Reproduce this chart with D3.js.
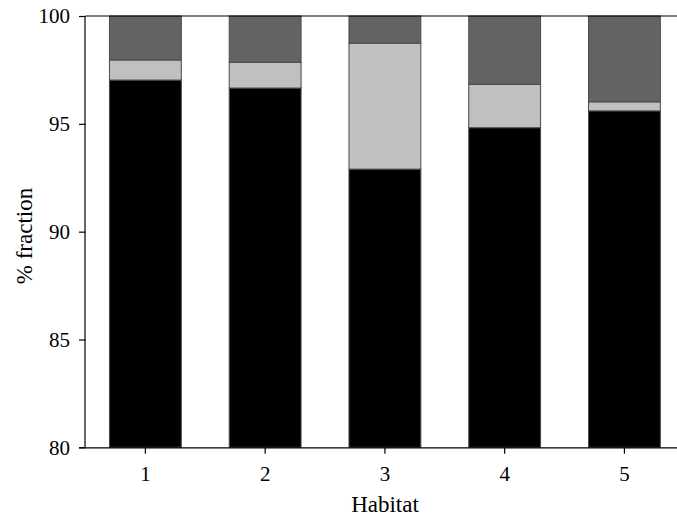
<!DOCTYPE html>
<html>
<head>
<meta charset="utf-8">
<script src="https://cdn.jsdelivr.net/npm/d3@7"></script>
<style>
  html, body { margin: 0; padding: 0; background: #fff; }
  svg { display: block; }
  text { font-family: "Liberation Serif", "Times New Roman", serif; fill: #000; }
</style>
</head>
<body>
<svg id="chart" width="677" height="518"></svg>
<script>
// ---- Data ----
const habitats = ["1", "2", "3", "4", "5"];
const blackPart = [97.03, 96.66, 92.90, 94.82, 95.60];
const lightPart = [0.93, 1.19, 5.84, 2.01, 0.42];
const darkPart  = [2.04, 2.15, 1.26, 3.17, 3.98];
const yTicks = [80, 85, 90, 95, 100];
const seriesColors = ["#000000", "#c0c0c0", "#636363"];

(function () {
const svg = d3.select("#chart");
const mLeft = 85.5, mTop = 16, mBottom = 447.3, rightFull = 684.3;

const x = d3.scaleBand().domain(habitats).range([mLeft, rightFull])
  .paddingInner(0.4).paddingOuter(0.2);
const y = d3.scaleLinear().domain([80, 100]).range([mBottom, mTop]);

const rows = habitats.map((h, i) => ({ h, s0: blackPart[i], s1: lightPart[i], s2: darkPart[i] }));
const stacked = d3.stack().keys(["s0", "s1", "s2"])(rows);

svg.append("defs").append("clipPath").attr("id", "plotclip")
  .append("rect").attr("x", mLeft).attr("y", mTop - 1).attr("width", 677 - mLeft).attr("height", mBottom - mTop + 2);

const g = svg.append("g").attr("clip-path", "url(#plotclip)");
stacked.forEach((layer, li) => {
  g.selectAll(null).data(layer).enter().append("rect")
    .attr("x", d => x(d.data.h))
    .attr("width", x.bandwidth())
    .attr("y", d => y(Math.min(d[1], 100)))
    .attr("height", d => y(Math.max(d[0], 80)) - y(Math.min(d[1], 100)))
    .attr("fill", seriesColors[li])
    .attr("stroke", "#4a4a4a")
    .attr("stroke-width", 1);
});

// top frame line
svg.append("line").attr("x1", mLeft).attr("x2", 677).attr("y1", mTop).attr("y2", mTop)
  .attr("stroke", "#000").attr("stroke-width", 1.2);

// Y axis
const yAxis = svg.append("g").attr("transform", `translate(${mLeft},0)`)
  .call(d3.axisLeft(y).tickValues(yTicks).tickSize(6.5).tickPadding(9));
yAxis.selectAll("text").style("font-size", "21px");

// X axis
const xAxis = svg.append("g").attr("transform", `translate(0,${mBottom})`)
  .call(d3.axisBottom(x).tickSize(6.5).tickPadding(12).tickSizeOuter(0));
xAxis.selectAll("text").style("font-size", "21px");
xAxis.select(".domain").attr("d", `M${mLeft - 6.5},0.5H677`);
yAxis.select(".domain").attr("d", `M-0.5,${mTop}V${mBottom}`);
svg.selectAll(".domain, .tick line").attr("stroke", "#000").attr("stroke-width", 1.2);

// Axis titles
svg.append("text").attr("x", 385).attr("y", 512).attr("text-anchor", "middle")
  .style("font-size", "23px").text("Habitat");
svg.append("text").attr("transform", "translate(32,236) rotate(-90)")
  .attr("text-anchor", "middle").style("font-size", "23px").text("% fraction");
})();
</script>
</body>
</html>
